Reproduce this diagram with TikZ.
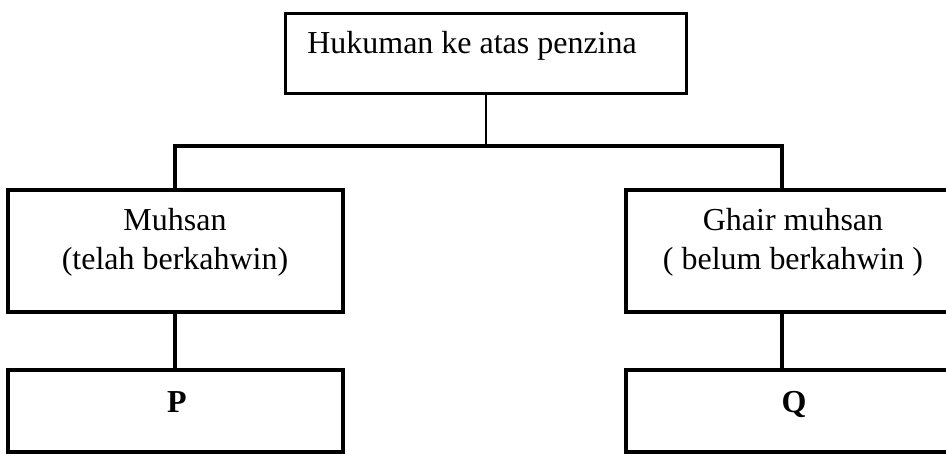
\documentclass[tikz,border=0pt]{standalone}
\usepackage{fontspec}
\setmainfont{Liberation Serif}

\begin{document}
\begin{tikzpicture}[x=0.02cm, y=-0.02cm,
        box/.style={draw, line width=1.9pt, inner sep=0pt},
        link/.style={line width=2.1pt},
        txt/.style={inner sep=0pt, align=center, font=\fontsize{18.2}{22.2}\selectfont}]
        \useasboundingbox (0,0) rectangle (946,453);
        % boxes
        \node[box, line width=1.7pt, minimum width=8.04cm, minimum height=1.62cm] (hukuman) at (486,53.5) {};
        \node[box, minimum width=6.7cm, minimum height=2.44cm] (muhsan) at (175.5,251) {};
        \node[box, minimum width=6.6cm, minimum height=2.44cm] (ghair) at (791,251) {};
        \node[box, minimum width=6.7cm, minimum height=1.64cm] (p) at (175.5,411) {};
        \node[box, minimum width=6.6cm, minimum height=1.64cm] (q) at (791,411) {};
        % texts
        \node[txt, anchor=base west] (hukumantxt) at (307,53) {Hukuman ke atas penzina};
        \node[txt] (muhsantxt) at (175,242) {Muhsan\\(telah berkahwin)};
        \node[txt] (ghairtxt) at (793,242) {Ghair muhsan\\( belum berkahwin )};
        \node[txt, anchor=base] (ptxt) at (177,412) {\textbf{P}};
        \node[txt, anchor=base] (qtxt) at (794,412) {\textbf{Q}};
        % connectors
        \coordinate (fork) at (486,146);
        \coordinate (lfork) at (175,146);
        \coordinate (rfork) at (782,146);
        \draw[line width=0.9pt] (hukuman.south -| fork) -- (fork);
        \draw[link] (muhsan.north -| lfork) -- (lfork) -- (rfork) -- (ghair.north -| rfork);
        \draw[link] (muhsan.south -| lfork) -- (p.north -| lfork);
        \draw[link] (ghair.south -| rfork) -- (q.north -| rfork);
    \end{tikzpicture}
\end{document}
